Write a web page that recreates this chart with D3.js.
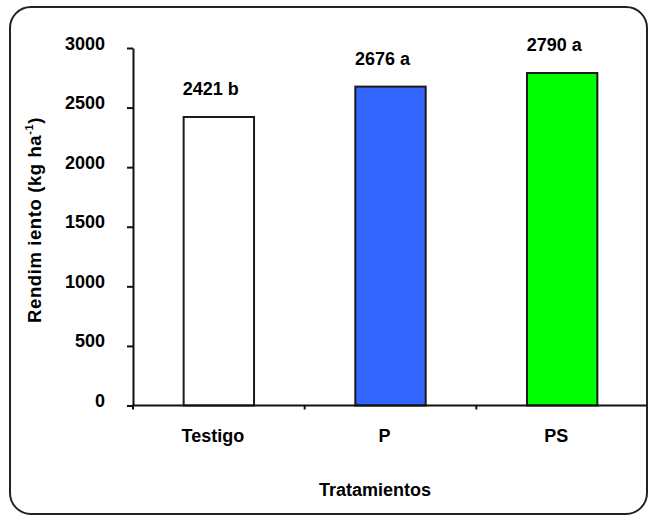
<!DOCTYPE html>
<html>
<head>
<meta charset="utf-8">
<script src="https://cdn.jsdelivr.net/npm/d3@7"></script>
<style>
  html, body { margin: 0; padding: 0; background: #fff; }
  svg { display: block; }
  text { font-family: "Liberation Sans", Arial, sans-serif; font-weight: bold; fill: #000; }
</style>
</head>
<body>
<svg id="chart" width="653" height="515"></svg>
<script>
const categories = ["Testigo", "P", "PS"];
const values = [2421, 2676, 2790];
const letters = ["b", "a", "a"];
const yTicks = [0, 500, 1000, 1500, 2000, 2500, 3000];
const barColors = ["#ffffff", "#3366ff", "#00ff00"];

const svg = d3.select("#chart");

// frame
svg.append("rect")
  .attr("x", 10).attr("y", 7).attr("width", 637).attr("height", 507)
  .attr("rx", 21).attr("ry", 21)
  .attr("fill", "none").attr("stroke", "#222").attr("stroke-width", 2);

const x = d3.scaleBand().domain(categories).range([133, 648]).padding(0);
const y = d3.scaleLinear().domain([0, 3000]).range([405.5, 48]);

const barW = x.bandwidth() * 0.41;

// bars
svg.append("g").selectAll("rect").data(categories).join("rect")
  .attr("x", d => x(d) + x.bandwidth() / 2 - barW / 2)
  .attr("y", (d, i) => y(values[i]))
  .attr("width", barW)
  .attr("height", (d, i) => y(0) - y(values[i]))
  .attr("fill", (d, i) => barColors[i])
  .attr("stroke", "#1a1a1a").attr("stroke-width", 2);

// value labels
svg.append("g").selectAll("text").data(categories).join("text")
  .attr("x", d => x(d) + x.bandwidth() / 2 - 8)
  .attr("y", (d, i) => y(values[i]) - 22)
  .attr("text-anchor", "middle")
  .attr("font-size", 18)
  .text((d, i) => values[i] + " " + letters[i]);

// y axis
const yAxis = svg.append("g").attr("transform", "translate(133,0)")
  .call(d3.axisLeft(y).tickValues(yTicks).tickSize(6).tickSizeOuter(0).tickPadding(22).tickFormat(d3.format("d")));
yAxis.select(".domain").attr("stroke", "#111").attr("stroke-width", 2);
yAxis.selectAll(".tick line").attr("stroke", "#111").attr("stroke-width", 2);
yAxis.selectAll(".tick text").attr("font-size", 18).attr("dy", 1)
  .style("font-family", "'Liberation Sans', Arial, sans-serif").style("font-weight", "bold").attr("fill", "#000");

// x axis labels
const xAxis = svg.append("g").attr("transform", "translate(0,405.5)")
  .call(d3.axisBottom(x).tickSize(0).tickPadding(24));
xAxis.select(".domain").remove();
xAxis.selectAll(".tick text").attr("font-size", 18).attr("dx", -6)
  .style("font-family", "'Liberation Sans', Arial, sans-serif").style("font-weight", "bold").attr("fill", "#000");

// x axis line and boundary ticks
svg.append("line")
  .attr("x1", 132).attr("x2", 647).attr("y1", y(0)).attr("y2", y(0))
  .attr("stroke", "#111").attr("stroke-width", 2);
svg.append("g").selectAll("line").data(categories).join("line")
  .attr("x1", d => x(d)).attr("x2", d => x(d))
  .attr("y1", y(0)).attr("y2", y(0) + 4)
  .attr("stroke", "#111").attr("stroke-width", 2);

// axis titles
svg.append("text")
  .attr("x", 375).attr("y", 496)
  .attr("text-anchor", "middle").attr("font-size", 18)
  .text("Tratamientos");

const yt = svg.append("text")
  .attr("transform", "translate(41,220) rotate(-90)")
  .attr("text-anchor", "middle").attr("font-size", 18.5)
  .style("letter-spacing", "0.6px");
yt.append("tspan").text("Rendim iento (kg ha");
yt.append("tspan").attr("font-size", 11).attr("dy", -8).text("-1");
yt.append("tspan").attr("dy", 8).text(")");
</script>
</body>
</html>
